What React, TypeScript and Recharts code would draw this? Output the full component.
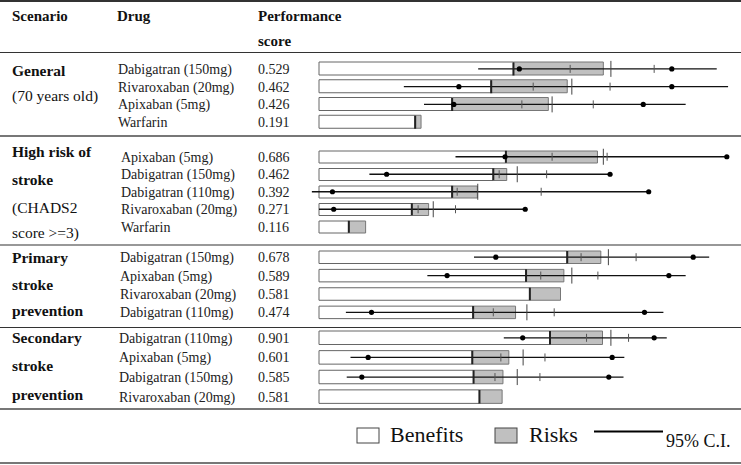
import { ComposedChart, Bar, XAxis, YAxis, Scatter, ReferenceLine } from 'recharts'

// scenario index of every row (0 General, 1 High risk, 2 Primary, 3 Secondary)
const GROUP = [0, 0, 0, 0, 1, 1, 1, 1, 1, 2, 2, 2, 2, 3, 3, 3, 3]
const DRUGS = [
  'Dabigatran (150mg)', 'Rivaroxaban (20mg)', 'Apixaban (5mg)', 'Warfarin',
  'Apixaban (5mg)', 'Dabigatran (150mg)', 'Dabigatran (110mg)', 'Rivaroxaban (20mg)', 'Warfarin',
  'Dabigatran (150mg)', 'Apixaban (5mg)', 'Rivaroxaban (20mg)', 'Dabigatran (110mg)',
  'Dabigatran (110mg)', 'Apixaban (5mg)', 'Dabigatran (150mg)', 'Rivaroxaban (20mg)',
]
const SCORES = ['0.529', '0.462', '0.426', '0.191', '0.686', '0.462', '0.392', '0.271', '0.116',
  '0.678', '0.589', '0.581', '0.474', '0.901', '0.601', '0.585', '0.581']
const BENEFITS = [0.463, 0.41, 0.317, 0.229, 0.445, 0.415, 0.317, 0.221, 0.071,
  0.591, 0.493, 0.502, 0.367, 0.55, 0.365, 0.368, 0.382]
const RISKS = [0.214, 0.181, 0.229, 0.014, 0.218, 0.032, 0.06, 0.04, 0.04,
  0.08, 0.09, 0.073, 0.101, 0.125, 0.087, 0.07, 0.054]
const CI_LOW = [0.379, 0.202, 0.25, null, 0.325, 0.12, -0.017, 0.0, null,
  0.369, 0.258, null, 0.064, 0.44, 0.075, 0.066, null]
const CI_HIGH = [0.947, 0.974, 0.873, null, 0.971, 0.693, 0.785, 0.491, null,
  0.929, 0.873, null, 0.82, 0.828, 0.727, 0.725, null]
const DOT_LOW = [0.477, 0.333, 0.321, null, 0.443, 0.161, 0.032, 0.035, null,
  0.421, 0.305, null, 0.125, 0.485, 0.117, 0.102, null]
const DOT_HIGH = [0.84, 0.84, 0.772, null, 0.971, 0.693, 0.785, 0.491, null,
  0.891, 0.833, null, 0.775, 0.798, 0.698, 0.69, null]
const TICK_LOW = [0.598, 0.51, 0.483, null, 0.555, 0.429, 0.329, 0.236, null,
  0.624, 0.528, null, 0.415, 0.637, 0.433, 0.419, null]
const TICK_HIGH = [0.798, 0.693, 0.653, null, 0.686, 0.542, 0.529, 0.325, null,
  0.755, 0.664, null, 0.56, 0.737, 0.538, 0.526, null]
const MARK = [0.695, 0.602, 0.555, null, 0.677, 0.472, 0.378, 0.272, null,
  0.689, 0.602, null, 0.495, 0.695, 0.486, 0.472, null]

const rows = DRUGS.map((drug, i) => ({
  group: GROUP[i],
  drug,
  score: SCORES[i],
  benefit: BENEFITS[i],
  risk: RISKS[i],
  ciLow: CI_LOW[i],
  ciHigh: CI_HIGH[i],
  dotLow: DOT_LOW[i],
  dotHigh: DOT_HIGH[i],
  tickLow: TICK_LOW[i],
  tickHigh: TICK_HIGH[i],
  mark: MARK[i],
}))

// placement of each scenario block on the page
const BLOCKS = [
  { top: 60, height: 71, barSize: 13, labelX: 118 },
  { top: 148, height: 87.5, barSize: 12, labelX: 121 },
  { top: 248, height: 73.5, barSize: 12.5, labelX: 120 },
  { top: 327.5, height: 78.5, barSize: 13.5, labelX: 119 },
]

const FONT = '"Liberation Serif", "Times New Roman", serif'
const GRAY = '#c0c0c0'

const vLine = (key: string, half: number, color: string, width: number) => (p: any) => {
  if (!p || !p.payload || p.payload[key] == null || p.cx == null) return <g />
  return <line x1={p.cx} x2={p.cx} y1={p.cy - half} y2={p.cy + half} stroke={color} strokeWidth={width} />
}

const dot = (key: string) => (p: any) => {
  if (!p || !p.payload || p.payload[key] == null || p.cx == null) return <g />
  return <circle cx={p.cx} cy={p.cy} r={2.6} fill="#000" />
}

function Block({ index }: { index: number }) {
  const b = BLOCKS[index]
  const data = rows.filter((r) => r.group === index)

  const tick = (p: any) => {
    const row = data.find((r) => r.drug === p.payload.value)
    return (
      <g fontFamily={FONT} fontSize={14} fill="#222">
        <text x={b.labelX} y={p.y} dy={5} fill="#222">{p.payload.value}</text>
        <text x={258} y={p.y} dy={5} fill="#222">{row ? row.score : ''}</text>
      </g>
    )
  }

  return (
    <div style={{ position: 'absolute', left: 0, top: b.top }}>
      <ComposedChart
        width={741}
        height={b.height}
        data={data}
        layout="vertical"
        margin={{ top: 0, right: 2, bottom: 0, left: 0 }}
        barSize={b.barSize}
      >
        <XAxis type="number" domain={[-0.05, 1]} allowDataOverflow hide />
        <YAxis type="category" dataKey="drug" width={298} axisLine={false} tickLine={false} tick={tick} interval={0} />
        <Bar dataKey="benefit" stackId="s" fill="#fff" stroke="#666" strokeWidth={1} isAnimationActive={false} />
        <Bar dataKey="risk" stackId="s" fill={GRAY} stroke="#777" strokeWidth={1} isAnimationActive={false} />
        {data
          .filter((r) => r.ciLow != null)
          .map((r) => (
            <ReferenceLine
              key={r.drug}
              segment={[{ x: r.ciLow, y: r.drug }, { x: r.ciHigh, y: r.drug }]}
              stroke="#111"
              strokeWidth={1.3}
              ifOverflow="visible"
            />
          ))}
        <Scatter dataKey="benefit" shape={vLine('benefit', b.barSize / 2, '#222', 2)} isAnimationActive={false} />
        <Scatter dataKey="mark" shape={vLine('mark', 8, '#444', 1)} isAnimationActive={false} />
        <Scatter dataKey="tickLow" shape={vLine('tickLow', 4, '#555', 1)} isAnimationActive={false} />
        <Scatter dataKey="tickHigh" shape={vLine('tickHigh', 4, '#555', 1)} isAnimationActive={false} />
        <Scatter dataKey="dotLow" shape={dot('dotLow')} isAnimationActive={false} />
        <Scatter dataKey="dotHigh" shape={dot('dotHigh')} isAnimationActive={false} />
      </ComposedChart>
    </div>
  )
}

const bold = { fontFamily: FONT, fontWeight: 700 as const, fill: '#111' }
const plain = { fontFamily: FONT, fill: '#111' }

export default function App() {
  return (
    <div style={{ position: 'relative', width: 741, height: 465, background: '#fff', overflow: 'hidden' }}>
      <style>{'body{margin:0}'}</style>
      <svg width={741} height={465} style={{ position: 'absolute', left: 0, top: 0 }}>
        <line x1={0} x2={741} y1={1} y2={1} stroke="#333" strokeWidth={2} />
        <line x1={0} x2={741} y1={52.5} y2={52.5} stroke="#333" strokeWidth={1} />
        <line x1={0} x2={741} y1={136} y2={136} stroke="#777" strokeWidth={2} />
        <line x1={0} x2={741} y1={245} y2={245} stroke="#333" strokeWidth={1.2} />
        <line x1={0} x2={741} y1={327.5} y2={327.5} stroke="#333" strokeWidth={1.2} />
        <line x1={0} x2={741} y1={409} y2={409} stroke="#777" strokeWidth={2} />
        <line x1={0} x2={741} y1={463} y2={463} stroke="#777" strokeWidth={2} />

        <text x={12} y={20.5} fontSize={15} {...bold}>Scenario</text>
        <text x={117} y={20.5} fontSize={15} {...bold}>Drug</text>
        <text x={258} y={20.5} fontSize={15} {...bold}>Performance</text>
        <text x={258} y={45.5} fontSize={15} {...bold}>score</text>

        <text x={12} y={76} fontSize={15.5} {...bold}>General</text>
        <text x={12} y={101} fontSize={15.5} {...plain}>(70 years old)</text>

        <text x={12} y={157} fontSize={15.5} {...bold}>High risk of</text>
        <text x={12} y={185} fontSize={15.5} {...bold}>stroke</text>
        <text x={12} y={213} fontSize={15.5} {...plain}>(CHADS2</text>
        <text x={12} y={238} fontSize={15.5} {...plain}>score &gt;=3)</text>

        <text x={12} y={263} fontSize={15.5} {...bold}>Primary</text>
        <text x={12} y={290} fontSize={15.5} {...bold}>stroke</text>
        <text x={12} y={316} fontSize={15.5} {...bold}>prevention</text>

        <text x={12} y={343} fontSize={15.5} {...bold}>Secondary</text>
        <text x={12} y={371} fontSize={15.5} {...bold}>stroke</text>
        <text x={12} y={400} fontSize={15.5} {...bold}>prevention</text>

        <rect x={357} y={428} width={22} height={15} fill="#fff" stroke="#444" />
        <text x={390} y={442} fontSize={22} {...plain}>Benefits</text>
        <rect x={495} y={428} width={22} height={15} fill={GRAY} stroke="#444" />
        <text x={529} y={442} fontSize={22} {...plain}>Risks</text>
        <line x1={594} x2={663} y1={431.5} y2={431.5} stroke="#000" strokeWidth={2} />
        <text x={666} y={447} fontSize={18} {...plain}>95% C.I.</text>
      </svg>
      {BLOCKS.map((_, i) => (
        <Block key={i} index={i} />
      ))}
    </div>
  )
}
